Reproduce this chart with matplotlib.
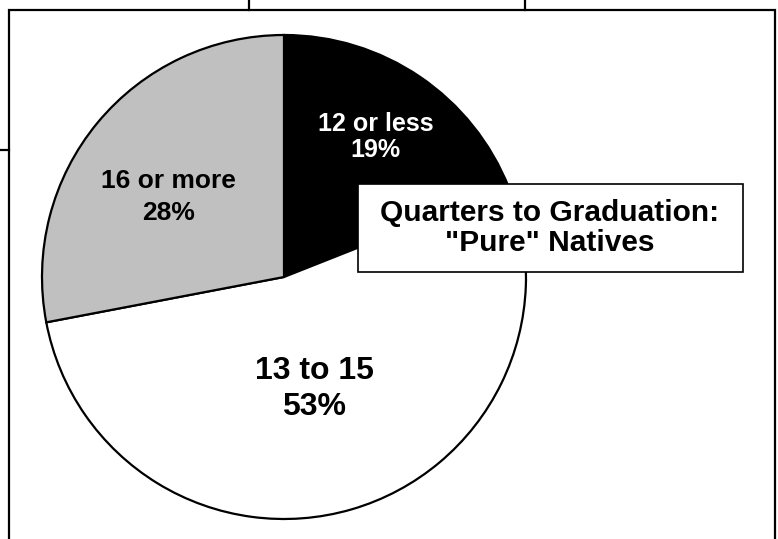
import numpy as np
import matplotlib
matplotlib.use("Agg")
import matplotlib.pyplot as plt
from matplotlib.patches import Rectangle

# data
groups = ["12 or less", "13 to 15", "16 or more"]
shares = [19, 53, 28]
pct_text = ["19%", "53%", "28%"]
colors = ["black", "white", "#c0c0c0"]
label_colors = ["white", "black", "black"]
label_sizes = [18, 23, 19]
label_gap = [1.12, 1.25, 1.4]
label_r = [0.69, 0.48, 0.58]
label_turn = [1, -1, 5]   # small angle nudges (deg) for label placement
title = 'Quarters to Graduation:\n"Pure" Natives'

W, H = 778, 539
fig = plt.figure(figsize=(W / 100, H / 100), dpi=100)
ax = fig.add_axes([0, 0, 1, 1])

cx, cy, R = 284, H - 277, 242
wedges, _ = ax.pie(shares, colors=colors, startangle=90, counterclock=False,
                   center=(cx, cy), radius=R,
                   wedgeprops=dict(edgecolor="black", linewidth=1.6))

fam = ["Liberation Sans Narrow", "Liberation Sans", "DejaVu Sans"]
for w, g, p, c, s, ls, r, t in zip(wedges, groups, pct_text, label_colors,
                                    label_sizes, label_gap, label_r, label_turn):
    mid = np.deg2rad((w.theta1 + w.theta2) / 2 + t)
    ax.text(cx + r * R * np.cos(mid), cy + r * R * np.sin(mid), g + "\n" + p,
            ha="center", va="center", color=c, fontsize=s, fontweight="bold",
            family=fam, linespacing=ls)

# title box
ax.add_patch(Rectangle((358, H - 272), 385, 88, facecolor="white",
                       edgecolor="black", linewidth=1.2, zorder=5))
ax.text(550, H - 228, title, ha="center", va="center", fontsize=21.5,
        fontweight="bold", family=["Liberation Sans", "DejaVu Sans"],
        linespacing=1.1, zorder=6)

# outer frame and stray lines from the slide
ax.add_patch(Rectangle((9.5, -20), 765.5, H - 9.5 + 20, fill=False,
                       edgecolor="black", linewidth=1.6, clip_on=False))
ax.plot([249, 249], [H - 9.5, H + 5], color="black", lw=1.6, clip_on=False)
ax.plot([525, 525], [H - 9.5, H + 5], color="black", lw=1.6, clip_on=False)
ax.plot([-5, 9.5], [H - 150, H - 150], color="black", lw=1.6, clip_on=False)

ax.set_xlim(0, W)
ax.set_ylim(0, H)
ax.set_aspect("auto")
ax.axis("off")

fig.savefig("out.png", dpi=100)
